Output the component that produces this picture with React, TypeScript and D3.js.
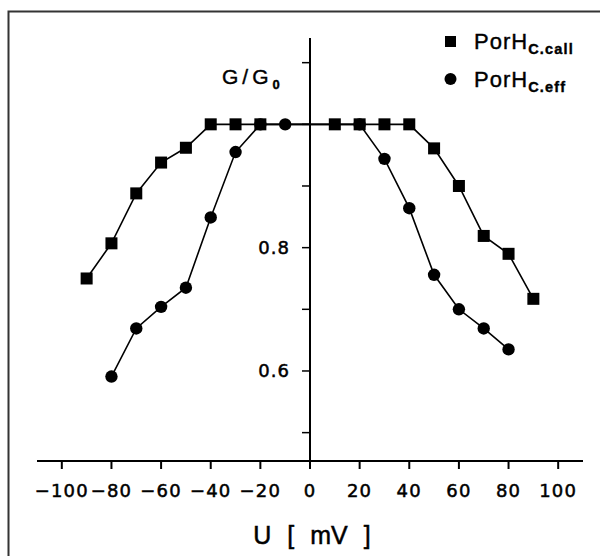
import React, { useEffect, useRef } from 'react';
import * as d3 from 'd3';

// PorH C.call (squares)
const callU = [-90, -80, -70, -60, -50, -40, -30, -20, 10, 20, 30, 40, 50, 60, 70, 80, 90];
const callG = [0.75, 0.807, 0.888, 0.938, 0.962, 1, 1, 1, 1, 1, 1, 1, 0.961, 0.9, 0.819, 0.79, 0.717];

// PorH C.eff (circles)
const effU = [-80, -70, -60, -50, -40, -30, -20, -10, 20, 30, 40, 50, 60, 70, 80];
const effG = [0.591, 0.669, 0.704, 0.735, 0.849, 0.955, 1, 1, 1, 0.944, 0.864, 0.756, 0.7, 0.669, 0.635];

const xTicks = [-100, -80, -60, -40, -20, 0, 20, 40, 60, 80, 100];
const yTicks = [0.5, 0.6, 0.7, 0.8, 0.9, 1.0, 1.1];
const yLabels = [0.6, 0.8];

const App = () => {
    const svgRef = useRef<SVGSVGElement>(null);

    useEffect(() => {
        document.body.style.margin = '0';
        const width = 600;
        const height = 556;

        const x = d3.scaleLinear().domain([-110, 110]).range([37, 583]);
        const y = d3.scaleLinear().domain([0.454, 1.14]).range([461, 38]);

        const svg = d3.select(svgRef.current);
        svg.selectAll('*').remove();
        svg.attr('width', width).attr('height', height);

        svg.append('rect').attr('width', width).attr('height', height).attr('fill', '#fff');

        // frame (left + top only)
        svg.append('path')
            .attr('d', `M8.5,${height} V11.5 H${width}`)
            .attr('fill', 'none')
            .attr('stroke', '#333')
            .attr('stroke-width', 2);

        const x0 = x(0);
        const yAxisPos = y(0.454);

        // x axis
        const xAxis = svg.append('g').attr('transform', `translate(0,${yAxisPos})`);
        xAxis.append('line')
            .attr('x1', x(-110)).attr('x2', x(110))
            .attr('stroke', '#000').attr('stroke-width', 2);
        xAxis.selectAll('.xt')
            .data(xTicks)
            .enter()
            .append('line')
            .attr('x1', d => x(d)).attr('x2', d => x(d))
            .attr('y1', 0).attr('y2', 8)
            .attr('stroke', '#000').attr('stroke-width', 2);
        xAxis.selectAll('.xl')
            .data(xTicks)
            .enter()
            .append('text')
            .attr('x', d => x(d))
            .attr('y', 36)
            .attr('text-anchor', 'middle')
            .attr('font-family', 'DejaVu Sans')
            .attr('font-size', 18)
            .attr('letter-spacing', 1.2)
            .attr('stroke', '#000')
            .attr('stroke-width', 0.5)
            .text(d => d3.format('')(d));

        // y axis
        const yAxis = svg.append('g').attr('transform', `translate(${x0},0)`);
        yAxis.append('line')
            .attr('y1', y(1.14)).attr('y2', y(0.454))
            .attr('stroke', '#000').attr('stroke-width', 2);
        yAxis.selectAll('.yt')
            .data(yTicks)
            .enter()
            .append('line')
            .attr('x1', -8).attr('x2', 0)
            .attr('y1', d => y(d)).attr('y2', d => y(d))
            .attr('stroke', '#000').attr('stroke-width', 1.5);
        yAxis.selectAll('.yl')
            .data(yLabels)
            .enter()
            .append('text')
            .attr('x', -20)
            .attr('y', d => y(d) + 6)
            .attr('text-anchor', 'end')
            .attr('font-family', 'DejaVu Sans')
            .attr('font-size', 18)
            .attr('letter-spacing', 1)
            .attr('stroke', '#000')
            .attr('stroke-width', 0.5)
            .text(d => d3.format('.1f')(d));

        // series lines
        const line = d3.line<[number, number]>()
            .x(d => x(d[0]))
            .y(d => y(d[1]));

        const effData = effU.map((u, i) => [u, effG[i]] as [number, number]);
        const callData = callU.map((u, i) => [u, callG[i]] as [number, number]);

        svg.append('path')
            .datum(effData)
            .attr('d', line)
            .attr('fill', 'none')
            .attr('stroke', '#000')
            .attr('stroke-width', 1.6);
        svg.append('path')
            .datum(callData)
            .attr('d', line)
            .attr('fill', 'none')
            .attr('stroke', '#000')
            .attr('stroke-width', 1.6);

        svg.selectAll('.eff')
            .data(effData)
            .enter()
            .append('circle')
            .attr('cx', d => x(d[0]))
            .attr('cy', d => y(d[1]))
            .attr('r', 6.2)
            .attr('fill', '#000');

        svg.selectAll('.call')
            .data(callData)
            .enter()
            .append('rect')
            .attr('x', d => x(d[0]) - 6)
            .attr('y', d => y(d[1]) - 6)
            .attr('width', 12)
            .attr('height', 12)
            .attr('fill', '#000');

        // axis titles
        const gLabel = svg.append('text')
            .attr('x', 222)
            .attr('y', 84)
            .attr('font-family', 'Liberation Sans')
            .attr('font-size', 21)
            .attr('stroke', '#000')
            .attr('stroke-width', 0.4)
            .attr('fill', '#000');
        gLabel.append('tspan').attr('letter-spacing', 4).text('G/G');
        gLabel.append('tspan')
            .attr('font-size', 13)
            .attr('font-weight', 'bold')
            .attr('dy', 5)
            .text('0');

        svg.append('text')
            .attr('x', x0 + 2)
            .attr('y', 544)
            .attr('text-anchor', 'middle')
            .attr('font-family', 'Liberation Sans')
            .attr('font-size', 25)
            .attr('word-spacing', 9)
            .attr('stroke', '#000')
            .attr('stroke-width', 0.5)
            .text('U [ mV ]');

        // legend
        const legend = svg.append('g');
        legend.append('rect').attr('x', 445).attr('y', 36).attr('width', 11).attr('height', 11).attr('fill', '#000');
        legend.append('circle').attr('cx', 450.5).attr('cy', 79).attr('r', 6).attr('fill', '#000');

        const legendItems = [
            { sub: 'C.call', yy: 49 },
            { sub: 'C.eff', yy: 87 },
        ];
        legendItems.forEach(item => {
            const t = legend.append('text')
                .attr('x', 474)
                .attr('y', item.yy)
                .attr('font-family', 'Liberation Sans')
                .attr('font-size', 22)
                .attr('letter-spacing', 1)
                .attr('stroke', '#000')
                .attr('stroke-width', 0.4);
            t.append('tspan').text('PorH');
            t.append('tspan')
                .attr('font-size', 14.5)
                .attr('font-weight', 'bold')
                .attr('letter-spacing', 1.2)
                .attr('dy', 5)
                .text(item.sub);
        });
    }, []);

    return (
        <div>
            <svg ref={svgRef}></svg>
        </div>
    );
};

export default App;
